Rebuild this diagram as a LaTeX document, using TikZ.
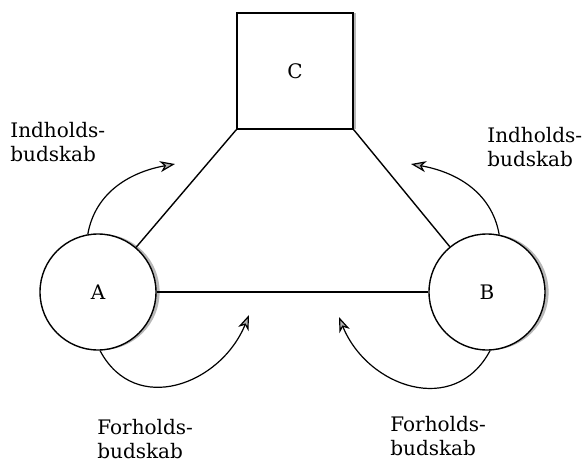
\documentclass[tikz,border=0pt]{standalone}
\usepackage{fontspec}
\setmainfont{DejaVu Serif}
\usetikzlibrary{arrows.meta, shadows}

\begin{document}
\begin{tikzpicture}[x=0.5pt, y=0.5pt, line width=0.7pt,
	party/.style={draw, circle, minimum size=58pt, fill=white, font=\normalsize,
		drop shadow={shadow xshift=1.8pt, shadow yshift=0pt, fill=gray!70, opacity=0.8}},
	thing/.style={draw, rectangle, minimum size=58pt, fill=white, font=\normalsize,
		drop shadow={shadow xshift=1.5pt, shadow yshift=0pt, fill=gray!70, opacity=0.8}},
	msg/.style={-{Stealth[length=7.5pt, width=5.5pt, inset=2.2pt, fill=gray!60, line width=0.6pt]}, line width=0.6pt},
	tag/.style={align=left, font=\fontsize{10}{12}\selectfont}]
	\useasboundingbox (0,0) rectangle (585,463);

	% the three corners
	\node[thing] (C) at (295,392) {C};
	\node[party] (A) at (98,171) {A};
	\node[party] (B) at (487,171) {B};

	\draw (C.south west) -- (A);
	\draw (C.south east) -- (B);
	\draw (A) -- (B);

	% free ends of the message arrows
	\coordinate (ia) at (175,299);
	\coordinate (ib) at (411,299);
	\coordinate (fa) at (249,148);
	\coordinate (fb) at (339,146);

	\draw[msg] (A.100) to[out=80, in=190] (ia);
	\draw[msg] (B.78) to[out=100, in=-10] (ib);
	\draw[msg] (A.-88) to[out=-62, in=-112, looseness=1.25] (fa);
	\draw[msg] (B.-87) to[out=-118, in=-68, looseness=1.25] (fb);

	% labels
	\node[tag, anchor=west] (li) at (3,321) {Indholds-\\budskab};
	\node[tag, anchor=west] (ri) at (480,316) {Indholds-\\budskab};
	\node[tag, anchor=west] (lf) at (90,24) {Forholds-\\budskab};
	\node[tag, anchor=west] (rf) at (383,27) {Forholds-\\budskab};
\end{tikzpicture}
\end{document}
